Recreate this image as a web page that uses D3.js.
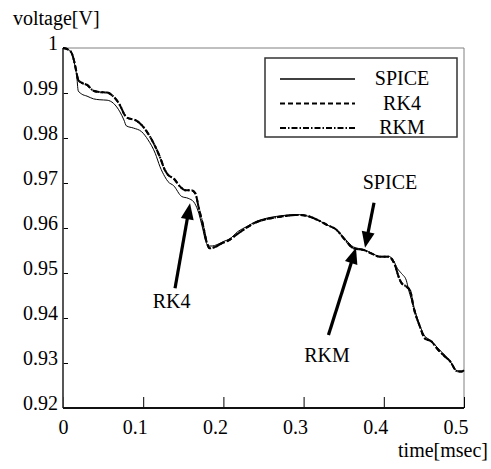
<!DOCTYPE html>
<html>
<head>
<meta charset="utf-8">
<script src="https://cdn.jsdelivr.net/npm/d3@7"></script>
<style>
    body { margin: 0; background: #fff; }
    svg text { font-family: "Liberation Serif", "Times New Roman", serif; fill: #000; }
</style>
</head>
<body>
<svg id="chart"></svg>
<script>

// ---- data (time in msec, voltage in V) ----
const xTicks = [0, 0.1, 0.2, 0.3, 0.4, 0.5];
const xTickLabels = ["0", "0.1", "0.2", "0.3", "0.4", "0.5"];
const yTicks = [0.92, 0.93, 0.94, 0.95, 0.96, 0.97, 0.98, 0.99, 1];
const yTickLabels = ["0.92", "0.93", "0.94", "0.95", "0.96", "0.97", "0.98", "0.99", "1"];

const seriesNames = ["SPICE", "RK4", "RKM"];

const timeRK = [0, 0.007, 0.011, 0.015, 0.017, 0.019, 0.023, 0.030, 0.038, 0.046, 0.055, 0.063, 0.071, 0.077,
    0.081, 0.090, 0.098, 0.106, 0.115, 0.121, 0.127, 0.131, 0.138, 0.146, 0.152, 0.160, 0.165, 0.169, 0.175,
    0.179, 0.183, 0.190, 0.198, 0.206, 0.217, 0.229, 0.240, 0.250, 0.271, 0.291, 0.304, 0.316, 0.329, 0.341,
    0.352, 0.362, 0.375, 0.385, 0.395, 0.406, 0.412, 0.415, 0.418, 0.422, 0.428, 0.433, 0.437, 0.445, 0.451,
    0.460, 0.466, 0.474, 0.483, 0.491, 0.497, 0.500];
const rk4 = [1.0000, 0.9996, 0.9988, 0.9962, 0.9944, 0.9929, 0.9923, 0.9918, 0.9905, 0.9902, 0.9901, 0.9892,
    0.9873, 0.9851, 0.9844, 0.9840, 0.9829, 0.9810, 0.9781, 0.9757, 0.9729, 0.9718, 0.9710, 0.9692, 0.9684,
    0.9684, 0.9677, 0.9647, 0.9603, 0.9570, 0.9555, 0.9558, 0.9566, 0.9572, 0.9586, 0.9601, 0.9612, 0.9618,
    0.9625, 0.9629, 0.9627, 0.9619, 0.9607, 0.9596, 0.9573, 0.9555, 0.9551, 0.9543, 0.9536, 0.9536, 0.9525,
    0.9512, 0.9494, 0.9478, 0.9470, 0.9460, 0.9425, 0.9381, 0.9355, 0.9347, 0.9333, 0.9318, 0.9303, 0.9282,
    0.9281, 0.9284];
const rkm = [1.0000, 0.9996, 0.9988, 0.9962, 0.9944, 0.9929, 0.9923, 0.9918, 0.9905, 0.9902, 0.9901, 0.9892,
    0.9873, 0.9851, 0.9844, 0.9840, 0.9829, 0.9810, 0.9781, 0.9757, 0.9729, 0.9718, 0.9710, 0.9692, 0.9684,
    0.9684, 0.9677, 0.9647, 0.9603, 0.9570, 0.9555, 0.9558, 0.9566, 0.9572, 0.9586, 0.9601, 0.9612, 0.9618,
    0.9625, 0.9629, 0.9627, 0.9619, 0.9607, 0.9596, 0.9573, 0.9555, 0.9551, 0.9543, 0.9536, 0.9536, 0.9525,
    0.9512, 0.9494, 0.9478, 0.9470, 0.9460, 0.9425, 0.9381, 0.9355, 0.9347, 0.9333, 0.9318, 0.9303, 0.9282,
    0.9281, 0.9284];

const timeSpice = [0, 0.007, 0.011, 0.015, 0.017, 0.019, 0.023, 0.030, 0.038, 0.046, 0.055, 0.063, 0.071, 0.076,
    0.079, 0.088, 0.098, 0.106, 0.115, 0.121, 0.127, 0.131, 0.138, 0.148, 0.156, 0.163, 0.168, 0.174, 0.178,
    0.182, 0.186, 0.192, 0.200, 0.208, 0.218, 0.230, 0.240, 0.250, 0.271, 0.291, 0.304, 0.316, 0.329, 0.341,
    0.352, 0.362, 0.375, 0.385, 0.395, 0.406, 0.412, 0.417, 0.422, 0.428, 0.431, 0.437, 0.445, 0.451, 0.457,
    0.463, 0.470, 0.477, 0.484, 0.491, 0.497, 0.500];
const spice = [1.0000, 0.9996, 0.9988, 0.9960, 0.9940, 0.9905, 0.9898, 0.9893, 0.9887, 0.9885, 0.9884, 0.9877,
    0.9858, 0.9840, 0.9827, 0.9822, 0.9814, 0.9796, 0.9766, 0.9736, 0.9714, 0.9703, 0.9694, 0.9670, 0.9666,
    0.9658, 0.9640, 0.9600, 0.9570, 0.9560, 0.9560, 0.9563, 0.9570, 0.9576, 0.9592, 0.9604, 0.9614, 0.9620,
    0.9627, 0.9630, 0.9627, 0.9619, 0.9607, 0.9596, 0.9575, 0.9558, 0.9552, 0.9544, 0.9537, 0.9537, 0.9528,
    0.9510, 0.9499, 0.9484, 0.9462, 0.9427, 0.9383, 0.9360, 0.9352, 0.9342, 0.9328, 0.9316, 0.9300, 0.9283,
    0.9281, 0.9284];

// annotation arrows in data units: [tail t, tail v, tip t, tip v, label t, label v]
const arrowNames = ["RK4", "SPICE", "RKM"];
const arrowCoords = [
    [0.1397, 0.9466, 0.1584, 0.9655, 0.1355, 0.9422],
    [0.3878, 0.9656, 0.3766, 0.9556, 0.4077, 0.9687],
    [0.3310, 0.9362, 0.3653, 0.9556, 0.3292, 0.9302]
];

const FONT = '"Liberation Serif", "Times New Roman", serif';

class LineChart {

    constructor(_config) {
        this.config = {
            parentElement: _config.parentElement,
            containerWidth: _config.containerWidth || 491,
            containerHeight: _config.containerHeight || 469,
        };
        this.config.margin = _config.margin || {top: 48, bottom: 61, right: 27, left: 63};
        this.initVis();
    }

    initVis() {
        let vis = this;
        vis.svg = d3.select(vis.config.parentElement)
            .attr('width', vis.config.containerWidth)
            .attr('height', vis.config.containerHeight);

        vis.width = vis.config.containerWidth - vis.config.margin.left - vis.config.margin.right;
        vis.height = vis.config.containerHeight - vis.config.margin.top - vis.config.margin.bottom;

        vis.chart = vis.svg.append('g')
            .attr('transform', `translate(${vis.config.margin.left},${vis.config.margin.top})`);

        vis.xScale = d3.scaleLinear().domain([0, 0.5]).range([0, vis.width]);
        vis.yScale = d3.scaleLinear().domain([0.92, 1]).range([vis.height, 0]);

        vis.series = [
            {name: "SPICE", values: timeSpice.map((t, i) => [t, spice[i]]), width: 1, dash: null},
            {name: "RK4", values: timeRK.map((t, i) => [t, rk4[i]]), width: 2, dash: "5,3"},
            {name: "RKM", values: timeRK.map((t, i) => [t, rkm[i]]), width: 2, dash: "6,2,1.5,2"}
        ];

        vis.render();
    }

    render() {
        let vis = this;

        // frame: grey top/right, dark left/bottom
        vis.chart.append('line')
            .attr('x1', 0).attr('x2', vis.width).attr('y1', 0).attr('y2', 0)
            .attr('stroke', '#808080').attr('stroke-width', 1);
        vis.chart.append('line')
            .attr('x1', vis.width).attr('x2', vis.width).attr('y1', 0).attr('y2', vis.height)
            .attr('stroke', '#808080').attr('stroke-width', 1);

        vis.renderAxes();

        let line = d3.line()
            .x(d => vis.xScale(d[0]))
            .y(d => vis.yScale(d[1]))
            .curve(d3.curveMonotoneX);

        vis.chart.selectAll('.series')
            .data(vis.series)
            .enter().append('path')
            .attr('class', 'series')
            .attr('d', d => line(d.values))
            .attr('fill', 'none')
            .attr('stroke', '#000')
            .attr('stroke-width', d => d.width)
            .attr('stroke-dasharray', d => d.dash);

        vis.renderLegend();
        vis.renderArrows();
    }

    renderAxes() {
        let vis = this;

        vis.xAxis = d3.axisBottom(vis.xScale)
            .tickValues(xTicks)
            .tickSize(-11)
            .tickFormat((d, i) => xTickLabels[i]);

        vis.xAxisG = vis.chart.append('g')
            .attr('transform', `translate(0,${vis.height})`)
            .call(vis.xAxis)
            .attr('font-family', null);
        vis.xAxisG.select('.domain').remove();
        vis.xAxisG.selectAll('line').attr('stroke', '#000');
        vis.xAxisG.selectAll('text')
            .attr('y', 26).attr('dy', 0)
            .attr('x', d => d === 0 ? 0 : 4)
            .attr('text-anchor', d => d === 0 ? 'middle' : 'end')
            .style('font-size', '20px')
            .style('font-family', FONT);

        vis.yAxis = d3.axisLeft(vis.yScale)
            .tickValues(yTicks)
            .tickSize(-5)
            .tickFormat((d, i) => yTickLabels[i]);

        vis.yAxisG = vis.chart.append('g').call(vis.yAxis)
            .attr('font-family', null);
        vis.yAxisG.select('.domain').remove();
        vis.yAxisG.selectAll('line').attr('stroke', '#000');
        vis.yAxisG.selectAll('text')
            .attr('x', -5).attr('dy', 0).attr('y', 1)
            .style('font-size', '20px')
            .style('font-family', FONT);

        // axis lines
        vis.chart.append('line')
            .attr('x1', 0).attr('x2', 0).attr('y1', 0).attr('y2', vis.height)
            .attr('stroke', '#444').attr('stroke-width', 1.8);
        vis.chart.append('line')
            .attr('x1', 0).attr('x2', vis.width).attr('y1', vis.height).attr('y2', vis.height)
            .attr('stroke', '#111').attr('stroke-width', 1.8);

        // axis labels
        vis.svg.append('text')
            .attr('x', 13).attr('y', 25)
            .style('font-size', '20px')
            .style('font-family', FONT)
            .text('voltage[V]');
        vis.svg.append('text')
            .attr('x', 488).attr('y', 457)
            .attr('text-anchor', 'end')
            .style('font-size', '20px')
            .style('font-family', FONT)
            .text('time[msec]');
    }

    renderLegend() {
        let vis = this;
        let lg = vis.svg.append('g').attr('transform', 'translate(265,58)');

        lg.append('rect')
            .attr('width', 192).attr('height', 79)
            .attr('fill', '#fff')
            .attr('stroke', '#333').attr('stroke-width', 1.5);

        let rows = lg.selectAll('.legend-row')
            .data(vis.series)
            .enter().append('g')
            .attr('class', 'legend-row')
            .attr('transform', (d, i) => `translate(0,${21 + i * 24.5})`);

        rows.append('line')
            .attr('x1', 15).attr('x2', 90)
            .attr('stroke', '#000')
            .attr('stroke-width', d => d.width === 1 ? 1.3 : 2)
            .attr('stroke-dasharray', d => d.dash);

        rows.append('text')
            .attr('x', 137).attr('y', 6)
            .attr('text-anchor', 'middle')
            .style('font-size', '20px')
            .style('font-family', FONT)
            .text((d, i) => seriesNames[i]);
    }

    renderArrows() {
        let vis = this;
        let headLen = 16, headHalf = 6.5;

        arrowCoords.forEach((c, i) => {
            let x0 = vis.xScale(c[0]), y0 = vis.yScale(c[1]);
            let x1 = vis.xScale(c[2]), y1 = vis.yScale(c[3]);
            let len = Math.hypot(x1 - x0, y1 - y0);
            let ux = (x1 - x0) / len, uy = (y1 - y0) / len;
            let bx = x1 - ux * headLen, by = y1 - uy * headLen;

            vis.chart.append('line')
                .attr('x1', x0).attr('y1', y0)
                .attr('x2', bx + ux * 2).attr('y2', by + uy * 2)
                .attr('stroke', '#000').attr('stroke-width', 3.2);

            vis.chart.append('path')
                .attr('d', `M${x1},${y1}L${bx - uy * headHalf},${by + ux * headHalf}L${bx + uy * headHalf},${by - ux * headHalf}Z`)
                .attr('fill', '#000');

            vis.chart.append('text')
                .attr('x', vis.xScale(c[4]))
                .attr('y', vis.yScale(c[5]))
                .attr('text-anchor', 'middle')
                .style('font-size', '20px')
                .style('font-family', FONT)
                .text(arrowNames[i]);
        });
    }
}

new LineChart({parentElement: '#chart'});

</script>
</body>
</html>
